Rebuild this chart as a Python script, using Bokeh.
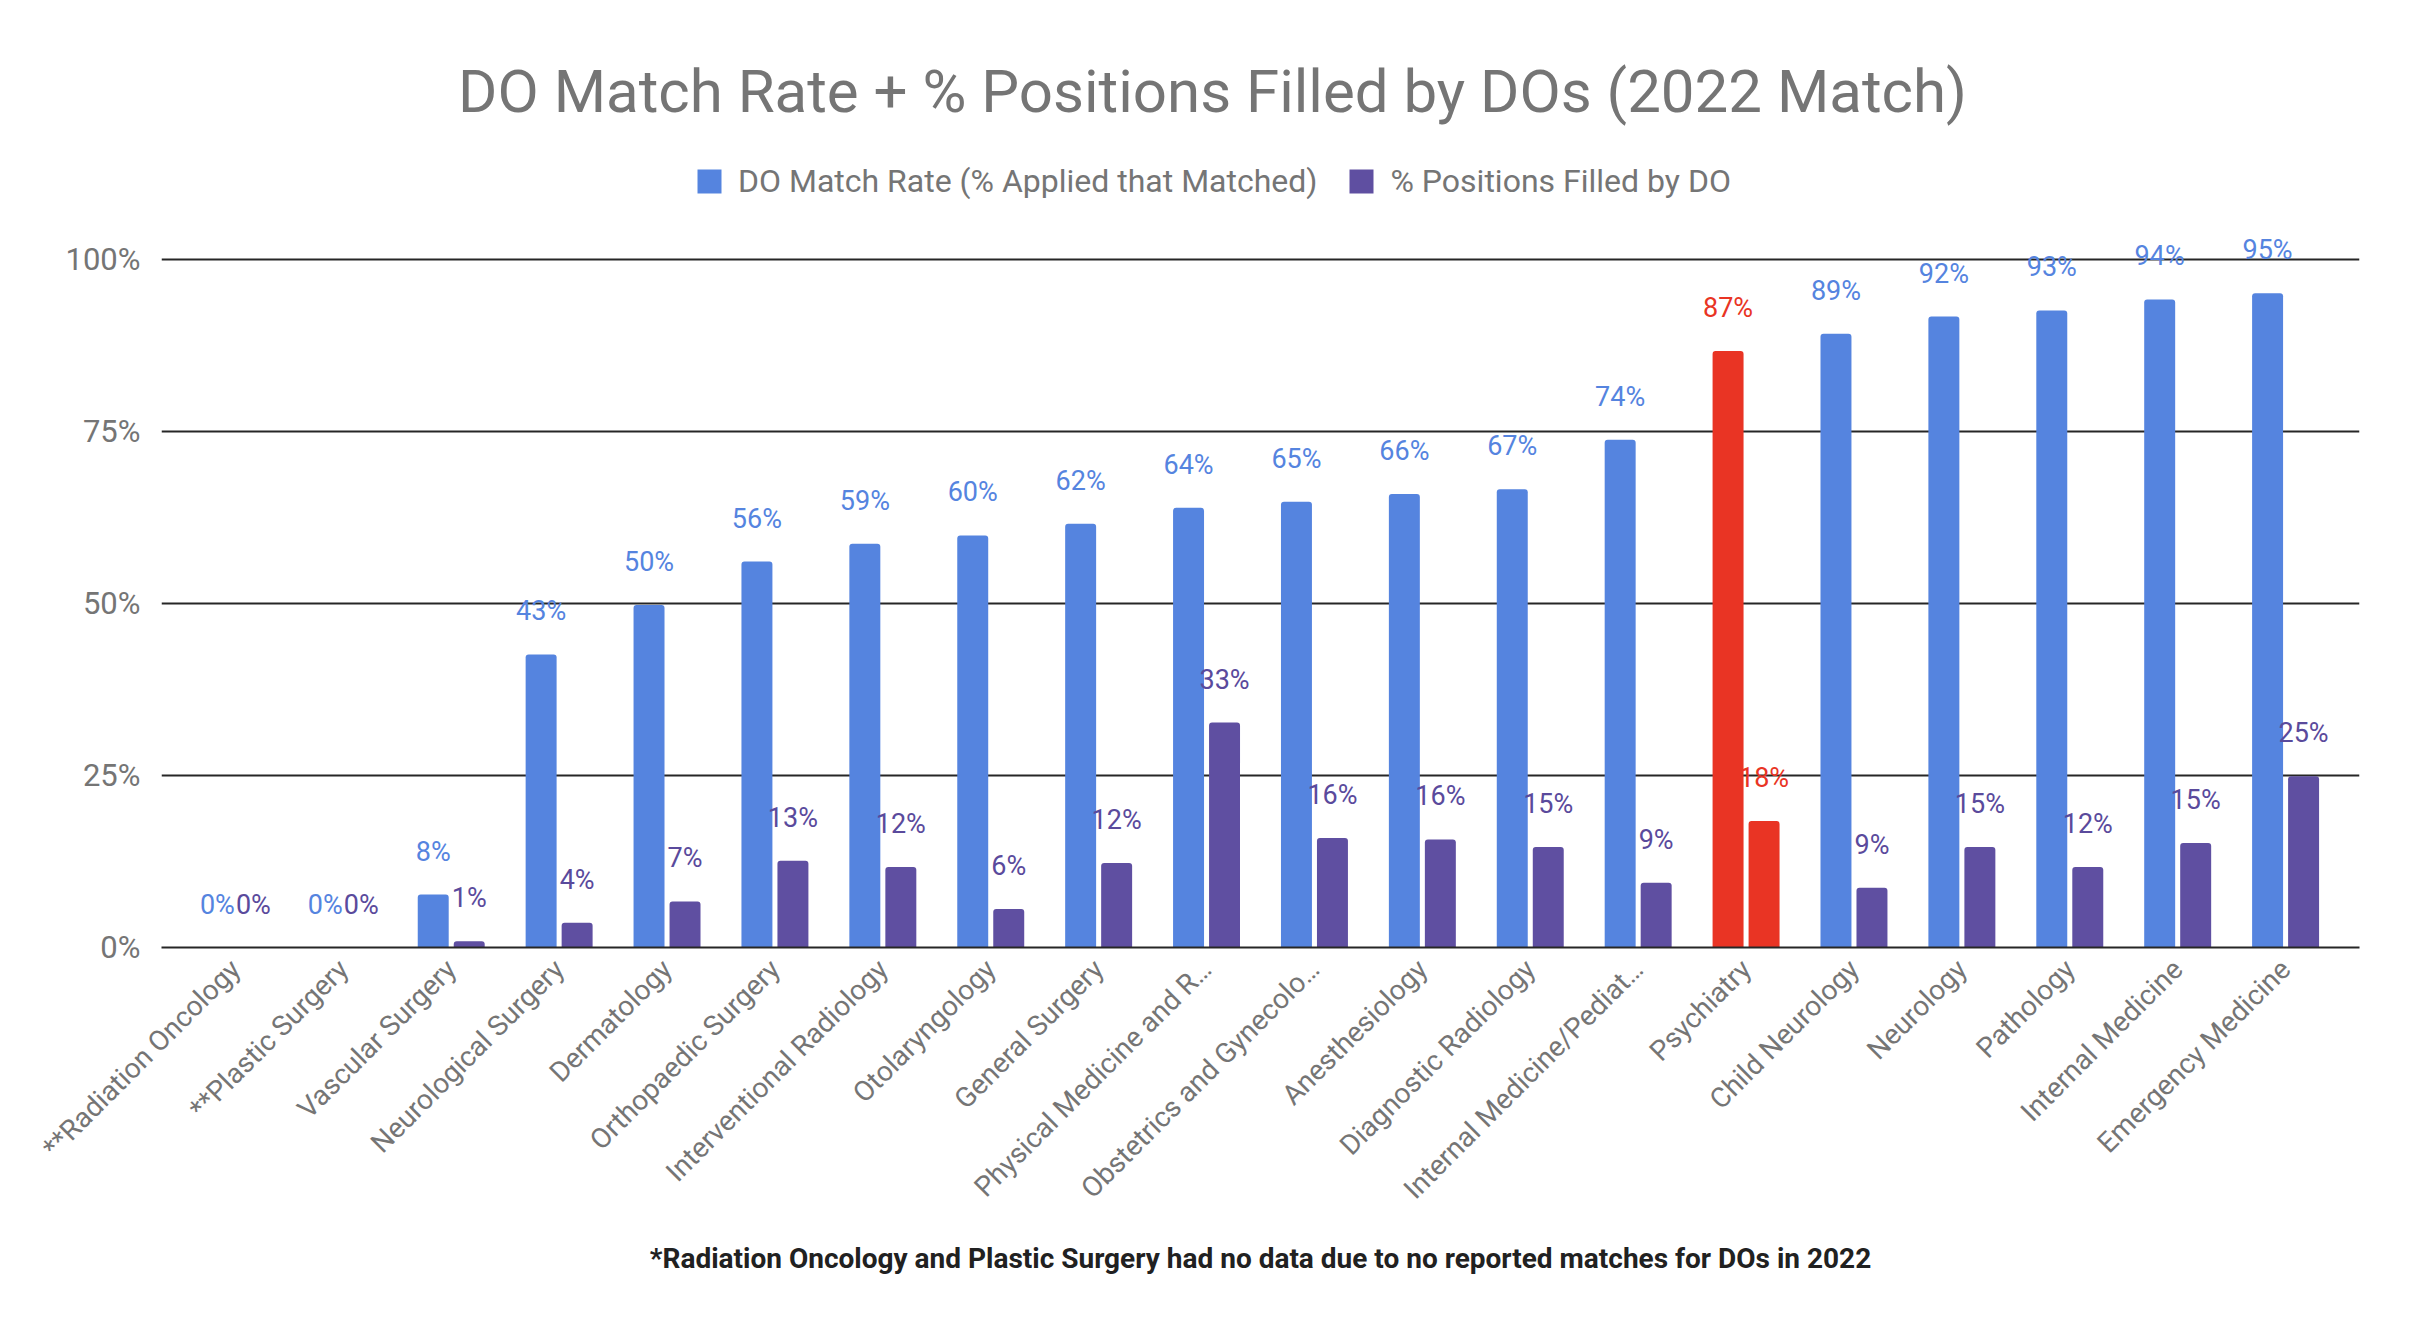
import math
from bokeh.plotting import figure
from bokeh.models import (ColumnDataSource, FactorRange, Range1d, FixedTicker,
                          NumeralTickFormatter, Legend, LegendItem, Label)
from bokeh.transform import dodge
from bokeh.core.properties import value
from bokeh.embed import file_html
from bokeh.resources import INLINE

# ---------------- data ----------------
categories = [
    "**Radiation Oncology", "**Plastic Surgery", "Vascular Surgery",
    "Neurological Surgery", "Dermatology", "Orthopaedic Surgery",
    "Interventional Radiology", "Otolaryngology", "General Surgery",
    "Physical Medicine and R\u2026", "Obstetrics and Gynecolo\u2026",
    "Anesthesiology", "Diagnostic Radiology", "Internal Medicine/Pediat\u2026",
    "Psychiatry", "Child Neurology", "Neurology", "Pathology",
    "Internal Medicine", "Emergency Medicine",
]
match_rate = [0.0, 0.0, 0.077, 0.426, 0.498, 0.561, 0.587, 0.599, 0.616,
              0.639, 0.648, 0.659, 0.666, 0.738, 0.867, 0.892, 0.917,
              0.926, 0.942, 0.951]
positions_filled = [0.0, 0.0, 0.009, 0.036, 0.067, 0.126, 0.117, 0.056,
                    0.123, 0.327, 0.159, 0.157, 0.146, 0.094, 0.184, 0.087,
                    0.146, 0.117, 0.152, 0.249]
highlight = "Psychiatry"
series_names = ["DO Match Rate (% Applied that Matched)", "% Positions Filled by DO"]
y_ticks = [0, 0.25, 0.5, 0.75, 1.0]
title_text = "DO Match Rate + % Positions Filled by DOs (2022 Match)"
footnote = "*Radiation Oncology and Plastic Surgery had no data due to no reported matches for DOs in 2022"

BLUE = "#5584df"
PURPLE = "#5f4fa1"
RED = "#e93424"
BLUE_TXT = "#5584df"
PURPLE_TXT = "#5a4a9c"
GRAY = "#757575"
FONT = "Roboto"

rate_color = [RED if c == highlight else BLUE for c in categories]
filled_color = [RED if c == highlight else PURPLE for c in categories]
rate_txt_color = [RED if c == highlight else BLUE_TXT for c in categories]
filled_txt_color = [RED if c == highlight else PURPLE_TXT for c in categories]

src = ColumnDataSource(dict(
    cat=categories,
    rate=match_rate,
    filled=positions_filled,
    rate_color=rate_color,
    filled_color=filled_color,
    rate_txt=rate_txt_color,
    filled_txt=filled_txt_color,
    rate_label=[f"{round(v * 100)}%" for v in match_rate],
    filled_label=[f"{round(v * 100)}%" for v in positions_filled],
))

# ---------------- figure ----------------
W, H = 2422, 1334
FRAME_LEFT, FRAME_RIGHT = 161, 2359
ZERO_Y, HUNDRED_Y = 947, 259
px_per_unit = ZERO_Y - HUNDRED_Y

p = figure(
    width=W, height=H,
    x_range=FactorRange(factors=categories, range_padding=0.0185),
    y_range=Range1d(0, ZERO_Y / px_per_unit),
    output_backend="svg", toolbar_location=None, title=None,
    min_border_left=FRAME_LEFT, min_border_right=W - FRAME_RIGHT,
    min_border_top=0, min_border_bottom=H - ZERO_Y,
)
p.outline_line_color = None
p.background_fill_color = "white"
p.border_fill_color = "white"

OFF = 0.1668
BW = 0.287

r1 = p.vbar(x=dodge("cat", -OFF, range=p.x_range), top="rate", width=BW, source=src,
            fill_color="rate_color", line_color=None, border_radius=(3, 3, 0, 0))
r2 = p.vbar(x=dodge("cat", OFF, range=p.x_range), top="filled", width=BW, source=src,
            fill_color="filled_color", line_color=None, border_radius=(3, 3, 0, 0))

p.text(x=dodge("cat", -OFF, range=p.x_range), y="rate", text="rate_label", source=src,
       text_color="rate_txt", text_align="center", text_baseline="alphabetic",
       y_offset=-43, text_font=value(FONT), text_font_size="27px")
p.text(x=dodge("cat", OFF, range=p.x_range), y="filled", text="filled_label", source=src,
       text_color="filled_txt", text_align="center", text_baseline="alphabetic",
       y_offset=-43, text_font=value(FONT), text_font_size="27px")

# axes
p.yaxis.ticker = FixedTicker(ticks=y_ticks)
p.yaxis.formatter = NumeralTickFormatter(format="0%")
p.yaxis.axis_line_color = None
p.yaxis.major_tick_line_color = None
p.yaxis.minor_tick_line_color = None
p.yaxis.major_label_standoff = 15
p.yaxis.major_label_text_font = FONT
p.yaxis.major_label_text_font_size = "31px"
p.yaxis.major_label_text_color = GRAY

p.ygrid.grid_line_color = "#262626"
p.ygrid.grid_line_width = 2
p.xgrid.grid_line_color = None

p.xaxis.axis_line_color = "#262626"
p.xaxis.axis_line_width = 2
p.xaxis.major_tick_line_color = None
p.xaxis.major_tick_out = 0
p.xaxis.major_tick_in = 0
p.xaxis.major_label_orientation = math.pi / 4
p.xaxis.major_label_standoff = 17
p.xaxis.major_label_text_font = FONT
p.xaxis.major_label_text_font_size = "28px"
p.xaxis.major_label_text_color = GRAY

# footnote as the x-axis title
p.xaxis.axis_label = footnote
p.xaxis.axis_label_standoff = 22
p.xaxis.axis_label_text_font = FONT
p.xaxis.axis_label_text_font_style = "bold"
p.xaxis.axis_label_text_font_size = "28px"
p.xaxis.axis_label_text_color = "#212121"

# legend
legend = Legend(
    items=[LegendItem(label=series_names[0], renderers=[r1], index=0),
           LegendItem(label=series_names[1], renderers=[r2], index=0)],
    orientation="horizontal", location=(533, 747),
    padding=0, margin=0, spacing=29,
    glyph_width=30, glyph_height=30, label_standoff=14, label_height=30,
    label_text_font=FONT, label_text_font_size="32px", label_text_color=GRAY,
    border_line_color=None, background_fill_alpha=0,
)
p.add_layout(legend)

# title
p.add_layout(Label(x=1212 - FRAME_LEFT, y=ZERO_Y - 108 + 17, x_units="screen", y_units="screen",
                   text=title_text, text_align="center", text_baseline="alphabetic",
                   text_font=FONT, text_font_size="60px", text_color=GRAY))

open("out.html", "w").write(file_html(p, INLINE))
